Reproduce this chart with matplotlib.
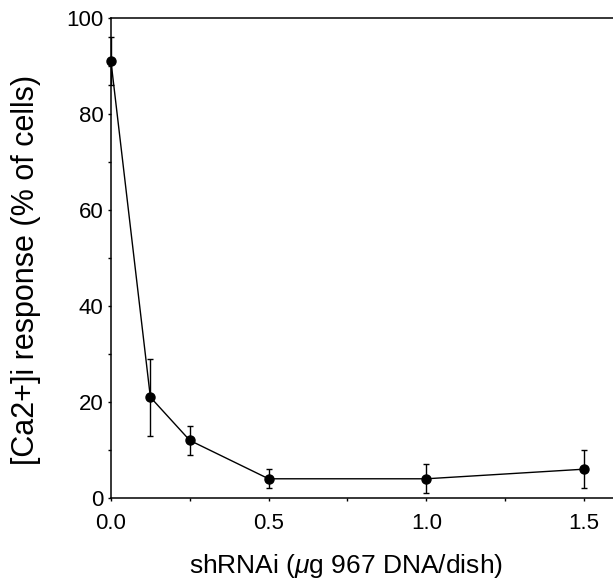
import matplotlib
matplotlib.use("Agg")
import matplotlib.pyplot as plt
from matplotlib.ticker import MultipleLocator, FormatStrFormatter

plt.rcParams['font.family'] = ['Liberation Sans', 'DejaVu Sans']
plt.rcParams['mathtext.fontset'] = 'custom'
plt.rcParams['mathtext.rm'] = 'Liberation Sans'
plt.rcParams['mathtext.it'] = 'Liberation Sans:italic'

dose = [0.0, 0.125, 0.25, 0.5, 1.0, 1.5]
response = [91, 21, 12, 4, 4, 6]
error = [5, 8, 3, 2, 3, 4]

fig = plt.figure(figsize=(6.13, 5.8), dpi=100)
ax = fig.add_axes([0.181, 0.1414, 1.004 - 0.181, 0.969 - 0.1414])

ax.errorbar(dose, response, yerr=error, color='black', lw=1.0, marker='o',
            markersize=6.5, capsize=2.5, elinewidth=1.0, capthick=1.0,
            clip_on=False, zorder=3)

ax.set_xlim(0, 1.6)
ax.set_ylim(0, 100)
ax.xaxis.set_major_locator(MultipleLocator(0.5))
ax.xaxis.set_minor_locator(MultipleLocator(0.25))
ax.yaxis.set_major_locator(MultipleLocator(20))
ax.yaxis.set_minor_locator(MultipleLocator(10))
ax.xaxis.set_major_formatter(FormatStrFormatter('%.1f'))

ax.spines['right'].set_visible(False)
for s in ['left', 'bottom', 'top']:
    ax.spines[s].set_linewidth(1.1)

ax.tick_params(axis='both', which='major', direction='out', length=2.5, width=1.0,
               labelsize=16, colors='black')
ax.tick_params(axis='both', which='minor', direction='out', length=2, width=1.0)
ax.tick_params(axis='y', pad=3)
ax.tick_params(axis='x', pad=8)

ax.set_xlabel(r'shRNAi ($\mu$g 967 DNA/dish)', fontsize=19, va='baseline', ha='center')
ax.xaxis.set_label_coords(345.5 / 613, 1 - 573 / 580, transform=fig.transFigure)
ax.set_ylabel('[Ca2+]i response (% of cells)', fontsize=22, va='center', ha='center')
ax.yaxis.set_label_coords(26 / 613, 1 - 270 / 580, transform=fig.transFigure)

fig.savefig('out.png', dpi=100)
